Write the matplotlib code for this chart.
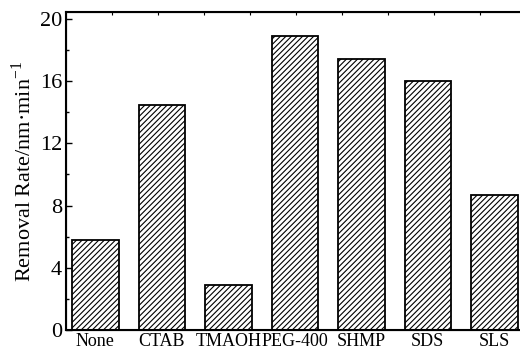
import matplotlib
matplotlib.use("Agg")
import matplotlib.pyplot as plt
from matplotlib.ticker import MultipleLocator

# data
surfactants = ["None", "CTAB", "TMAOH", "PEG-400", "SHMP", "SDS", "SLS"]
removal_rate = [5.8, 14.5, 2.9, 18.9, 17.4, 16.0, 8.7]

plt.rcParams["font.family"] = ["Liberation Serif", "DejaVu Serif"]
plt.rcParams["mathtext.fontset"] = "custom"
plt.rcParams["mathtext.rm"] = "Liberation Serif"
plt.rcParams["hatch.linewidth"] = 0.8

fig = plt.figure(figsize=(5.2, 3.52), dpi=100)
ax = fig.add_axes([0.127, 0.0625, 0.885, 0.9035])

x = range(len(surfactants))
ax.bar(x, removal_rate, width=0.7, color="white", edgecolor="black",
       linewidth=1.3, hatch="//////")

ax.set_xlim(-0.44, 6.48)
ax.set_ylim(0, 20.45)
ax.set_xticks(list(x))
ax.set_xticklabels(surfactants, fontsize=13)
ax.yaxis.set_major_locator(MultipleLocator(4))
ax.yaxis.set_minor_locator(MultipleLocator(2))
ax.tick_params(axis="y", direction="in", length=4, width=1, labelsize=16, pad=3)
ax.tick_params(axis="y", which="minor", direction="in", length=2, width=1)
ax.tick_params(axis="x", length=0, pad=2)
ax.set_ylabel("Removal Rate/nm\u00b7min$^{\\mathrm{-1}}$", fontsize=16, labelpad=3)

for s in ax.spines.values():
    s.set_linewidth(1.5)

# top axis ticks
top = ax.twiny()
top.set_xlim(0, 10)
top.set_xticks(range(1, 10))
top.set_xticklabels([])
top.tick_params(axis="x", direction="in", length=2, width=0.8)

fig.savefig("out.png", dpi=100)
